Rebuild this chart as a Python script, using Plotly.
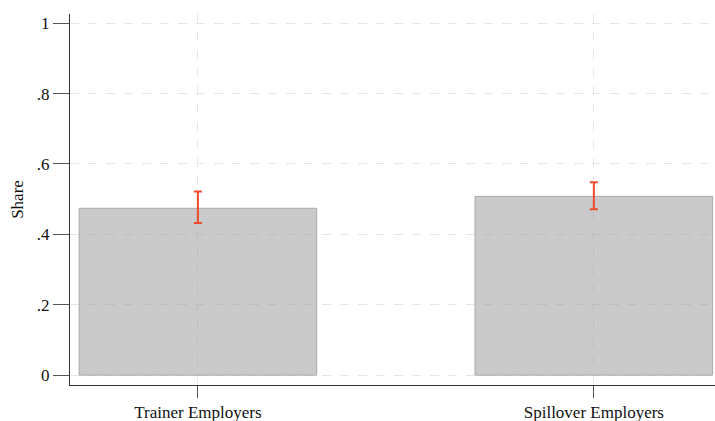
import plotly.graph_objects as go

categories = ["Trainer Employers", "Spillover Employers"]
shares = [0.474, 0.508]
ci_upper = [0.522, 0.548]
ci_lower = [0.432, 0.471]
y_ticks = [0, 0.2, 0.4, 0.6, 0.8, 1]
y_tick_labels = ["0", ".2", ".4", ".6", ".8", "1"]

err_plus = [u - s for u, s in zip(ci_upper, shares)]
err_minus = [s - l for s, l in zip(shares, ci_lower)]

fig = go.Figure()
fig.add_trace(go.Bar(
    x=[0, 1], y=shares, width=0.6,
    marker=dict(color="rgba(150,150,150,0.5)", line=dict(color="#a9a9a9", width=1)),
    error_y=dict(type="data", array=err_plus, arrayminus=err_minus,
                 color="#ee4a2c", thickness=2, width=4),
    showlegend=False,
))

font = "Liberation Serif, Times New Roman, serif"
fig.update_layout(
    width=715, height=421,
    margin=dict(l=70, r=0, t=14, b=36),
    paper_bgcolor="white", plot_bgcolor="white",
    font=dict(family=font, size=17, color="#222"),
    bargap=0.4,
    xaxis=dict(
        range=[-0.323, 1.306], tickvals=[0, 1], ticktext=categories,
        showline=True, linecolor="#333", linewidth=1,
        ticks="outside", ticklen=12, tickcolor="#555", tickwidth=1,
        showgrid=True, gridcolor="#e6e6e6", griddash="dash", gridwidth=1,
        zeroline=False, tickfont=dict(size=17, family=font, color="#111"),
        ticklabelstandoff=0, automargin=False,
    ),
    yaxis=dict(
        range=[-0.028, 1.026], tickvals=y_ticks, ticktext=y_tick_labels,
        showline=True, linecolor="#333", linewidth=1,
        ticks="outside", ticklen=16, tickcolor="#555", tickwidth=1,
        showgrid=True, gridcolor="#e6e6e6", griddash="dash", gridwidth=1,
        zeroline=False, tickfont=dict(size=17, family=font, color="#111"),
        title=dict(text="Share", font=dict(size=17, family=font, color="#111"), standoff=8),
        automargin=False,
    ),
)

fig.write_html("out.html")
